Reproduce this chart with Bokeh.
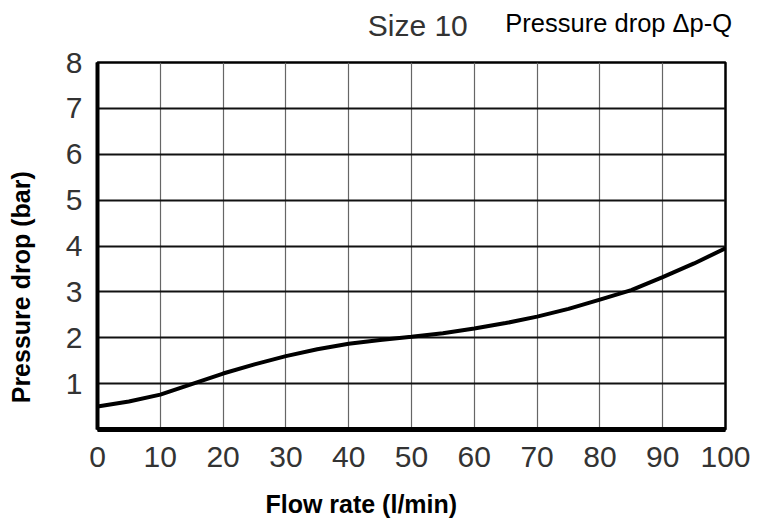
from bokeh.plotting import figure
from bokeh.models import FixedTicker, Range1d, LinearAxis
from bokeh.embed import file_html
from bokeh.resources import INLINE

flow = [0, 5, 10, 15, 20, 25, 30, 35, 40, 45, 50, 55, 60, 65, 70, 75, 80, 85, 90, 95, 100]
dp = [0.50, 0.61, 0.76, 0.99, 1.22, 1.42, 1.60, 1.75, 1.87, 1.95, 2.02, 2.10, 2.20, 2.32, 2.46, 2.63, 2.83, 3.04, 3.32, 3.62, 3.95]
x_ticks = [0, 10, 20, 30, 40, 50, 60, 70, 80, 90, 100]
y_ticks = [1, 2, 3, 4, 5, 6, 7, 8]

size_text = "Size 10"
title_text = "Pressure drop \u0394p-Q"
x_title = "Flow rate (l/min)"
y_title = "Pressure drop (bar)"

FONT = "Liberation Sans"

p = figure(width=759, height=520, output_backend="svg", toolbar_location=None,
           x_range=Range1d(0, 100), y_range=Range1d(0, 8),
           min_border_left=97, min_border_right=34, min_border_top=62, min_border_bottom=91)
p.background_fill_color = "white"
p.border_fill_color = "white"
p.outline_line_color = "black"
p.outline_line_width = 2.5

xa = p.xaxis[0]
ya = p.yaxis[0]
xa.ticker = FixedTicker(ticks=x_ticks)
ya.ticker = FixedTicker(ticks=y_ticks)
for ax in (xa, ya):
    ax.major_tick_line_color = None
    ax.minor_tick_line_color = None
    ax.axis_line_color = "black"
    ax.major_label_text_font = FONT
    ax.major_label_text_font_size = "30px"
    ax.major_label_text_color = "#333333"
xa.axis_line_width = 5
ya.axis_line_width = 4
xa.major_label_standoff = 11
ya.major_label_standoff = 9

p.xgrid.ticker = FixedTicker(ticks=x_ticks[1:-1])
p.ygrid.ticker = FixedTicker(ticks=y_ticks[:-1])
p.xgrid.grid_line_color = "#666666"
p.xgrid.grid_line_width = 1.2
p.ygrid.grid_line_color = "#111111"
p.ygrid.grid_line_width = 2

p.line(flow, dp, line_color="black", line_width=4)


def text_axis(pos, text, size, color, bold, standoff, where, vertical=False):
    ax = LinearAxis(ticker=FixedTicker(ticks=[pos]), major_label_overrides={pos: text})
    ax.axis_line_color = None
    ax.major_tick_line_color = None
    ax.minor_tick_line_color = None
    ax.major_tick_out = 0
    ax.major_tick_in = 0
    ax.minor_tick_out = 0
    ax.minor_tick_in = 0
    ax.major_label_standoff = standoff
    ax.major_label_text_font = FONT
    ax.major_label_text_font_size = size
    ax.major_label_text_color = color
    ax.major_label_text_font_style = "bold" if bold else "normal"
    if vertical:
        ax.major_label_orientation = "vertical"
    p.add_layout(ax, where)
    return ax


text_axis(51, size_text, "30px", "#333333", False, 21, "above")
text_axis(83, title_text, "25.5px", "black", False, -31, "above")
text_axis(42, x_title, "25px", "black", True, 20, "below")
text_axis(3.1, y_title, "25px", "black", True, 27, "left", vertical=True)

open("out.html", "w").write(file_html(p, INLINE))
